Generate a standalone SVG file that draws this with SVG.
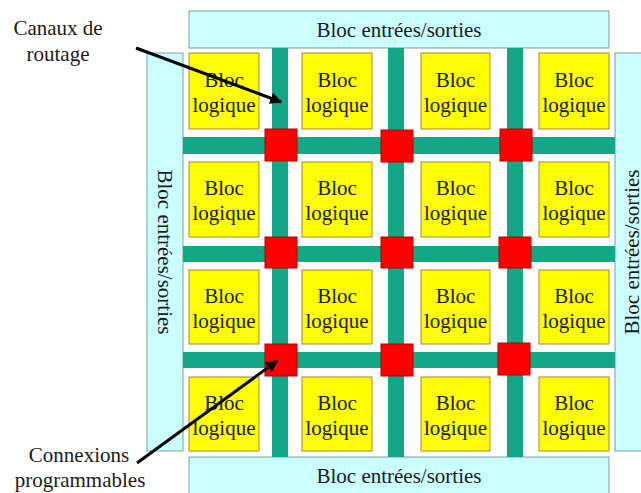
<svg xmlns="http://www.w3.org/2000/svg" width="641" height="493" viewBox="0 0 641 493">
<defs>
<style>
.io{fill:#ccffff;stroke:#7f9f9f;stroke-width:1}
.lb{fill:#ffff00;stroke:#a08a30;stroke-width:1}
.ch{fill:#13a885}
.sw{fill:#ff0000;stroke:#b00000;stroke-width:1}
.t{font-family:'Liberation Serif','DejaVu Serif',serif;font-size:21px;fill:#1a1a1a}
.c{text-anchor:middle}
.arr{stroke:#000;stroke-width:3;fill:none;marker-end:url(#ah)}
</style>
<marker id="ah" viewBox="0 0 10 10" refX="9" refY="5" markerWidth="4" markerHeight="4" orient="auto" markerUnits="strokeWidth">
<path d="M0,0 L10,5 L0,10 z" fill="#000"/>
</marker>
</defs>
<rect width="641" height="493" fill="#ffffff"/>
<g font-family="Liberation Serif, DejaVu Serif, serif" font-size="21">
<g id="io-top"><rect class="io" x="189" y="11" width="420" height="37"/><text class="t c" x="399" y="37">Bloc entrées/sorties</text></g>
<g id="io-bottom"><rect class="io" x="189" y="457" width="420" height="40"/><text class="t c" x="399" y="483">Bloc entrées/sorties</text></g>
<g id="io-left"><rect class="io" x="147" y="53" width="36" height="398"/><text class="t c" transform="translate(158,252) rotate(90)" x="0" y="0">Bloc entrées/sorties</text></g>
<g id="io-right"><rect class="io" x="615" y="53" width="40" height="398"/><text class="t c" transform="translate(639,252) rotate(-90)" x="0" y="0">Bloc entrées/sorties</text></g>
<g id="channels">
<rect class="ch" x="272" y="48" width="16" height="409"/>
<rect class="ch" x="388" y="48" width="16" height="409"/>
<rect class="ch" x="507" y="48" width="16" height="409"/>
<rect class="ch" x="183" y="137" width="432" height="17"/>
<rect class="ch" x="183" y="246" width="432" height="16"/>
<rect class="ch" x="183" y="352" width="432" height="16"/>
</g>
<g id="logic-blocks">
<g id="lb-1-1"><rect class="lb" x="189" y="53" width="70" height="76"/><text class="t c" x="224" y="87">Bloc</text><text class="t c" x="224" y="112">logique</text></g>
<g id="lb-1-2"><rect class="lb" x="302" y="53" width="70" height="76"/><text class="t c" x="337" y="87">Bloc</text><text class="t c" x="337" y="112">logique</text></g>
<g id="lb-1-3"><rect class="lb" x="421" y="53" width="69" height="76"/><text class="t c" x="455.5" y="87">Bloc</text><text class="t c" x="455.5" y="112">logique</text></g>
<g id="lb-1-4"><rect class="lb" x="539" y="53" width="70" height="76"/><text class="t c" x="574" y="87">Bloc</text><text class="t c" x="574" y="112">logique</text></g>
<g id="lb-2-1"><rect class="lb" x="189" y="162" width="70" height="75"/><text class="t c" x="224" y="195">Bloc</text><text class="t c" x="224" y="220">logique</text></g>
<g id="lb-2-2"><rect class="lb" x="302" y="162" width="70" height="75"/><text class="t c" x="337" y="195">Bloc</text><text class="t c" x="337" y="220">logique</text></g>
<g id="lb-2-3"><rect class="lb" x="421" y="162" width="69" height="75"/><text class="t c" x="455.5" y="195">Bloc</text><text class="t c" x="455.5" y="220">logique</text></g>
<g id="lb-2-4"><rect class="lb" x="539" y="162" width="70" height="75"/><text class="t c" x="574" y="195">Bloc</text><text class="t c" x="574" y="220">logique</text></g>
<g id="lb-3-1"><rect class="lb" x="189" y="270" width="70" height="74"/><text class="t c" x="224" y="303">Bloc</text><text class="t c" x="224" y="328">logique</text></g>
<g id="lb-3-2"><rect class="lb" x="302" y="270" width="70" height="74"/><text class="t c" x="337" y="303">Bloc</text><text class="t c" x="337" y="328">logique</text></g>
<g id="lb-3-3"><rect class="lb" x="421" y="270" width="69" height="74"/><text class="t c" x="455.5" y="303">Bloc</text><text class="t c" x="455.5" y="328">logique</text></g>
<g id="lb-3-4"><rect class="lb" x="539" y="270" width="70" height="74"/><text class="t c" x="574" y="303">Bloc</text><text class="t c" x="574" y="328">logique</text></g>
<g id="lb-4-1"><rect class="lb" x="189" y="377" width="70" height="74"/><text class="t c" x="224" y="410">Bloc</text><text class="t c" x="224" y="435">logique</text></g>
<g id="lb-4-2"><rect class="lb" x="302" y="377" width="70" height="74"/><text class="t c" x="337" y="410">Bloc</text><text class="t c" x="337" y="435">logique</text></g>
<g id="lb-4-3"><rect class="lb" x="421" y="377" width="69" height="74"/><text class="t c" x="455.5" y="410">Bloc</text><text class="t c" x="455.5" y="435">logique</text></g>
<g id="lb-4-4"><rect class="lb" x="539" y="377" width="70" height="74"/><text class="t c" x="574" y="410">Bloc</text><text class="t c" x="574" y="435">logique</text></g>
</g>
<g id="switches">
<rect id="sw-1-1" class="sw" x="265" y="129" width="32" height="32"/>
<rect id="sw-1-2" class="sw" x="381" y="130" width="32" height="32"/>
<rect id="sw-1-3" class="sw" x="500" y="129" width="32" height="32"/>
<rect id="sw-2-1" class="sw" x="265" y="237" width="32" height="31"/>
<rect id="sw-2-2" class="sw" x="381" y="237" width="32" height="31"/>
<rect id="sw-2-3" class="sw" x="499" y="237" width="32" height="31"/>
<rect id="sw-3-1" class="sw" x="265" y="344" width="32" height="32"/>
<rect id="sw-3-2" class="sw" x="381" y="344" width="32" height="32"/>
<rect id="sw-3-3" class="sw" x="498" y="343" width="32" height="32"/>
</g>
<g id="label-canaux"><text class="t c" x="58" y="35">Canaux de</text><text class="t c" x="58" y="61">routage</text></g>
<g id="label-connexions"><text class="t c" x="79" y="462">Connexions</text><text class="t c" x="80" y="487">programmables</text></g>
<g id="connectors">
<line class="arr" x1="136" y1="48" x2="281" y2="102"/>
<line class="arr" x1="137" y1="463" x2="277" y2="361"/>
</g>
</g>
</svg>
